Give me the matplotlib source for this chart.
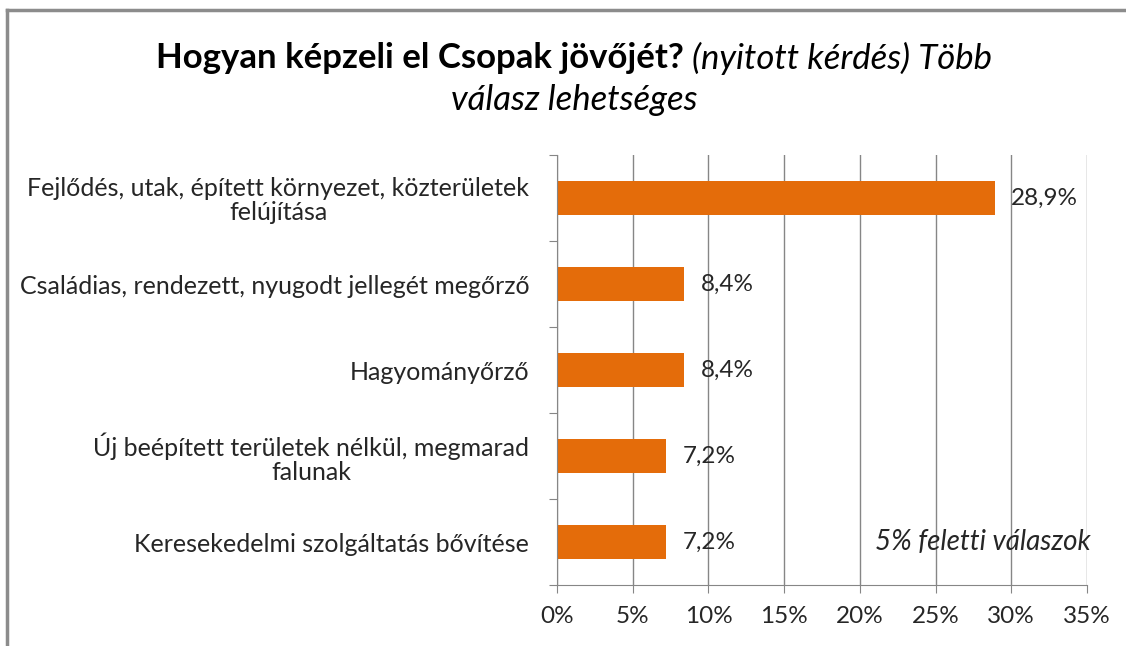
import matplotlib.pyplot as plt
from matplotlib.lines import Line2D

plt.rcParams['font.family'] = ['Lato', 'DejaVu Sans']

# Adatok
kategoriak = [
    "Fejlődés, utak, épített környezet, közterületek\nfelújítása",
    "Családias, rendezett, nyugodt jellegét megőrző",
    "Hagyományőrző",
    "Új beépített területek nélkül, megmarad\nfalunak",
    "Keresekedelmi szolgáltatás bővítése",
]
ertekek = [28.9, 8.4, 8.4, 7.2, 7.2]
cimkek = ["28,9%", "8,4%", "8,4%", "7,2%", "7,2%"]
x_tickek = [0, 5, 10, 15, 20, 25, 30, 35]

narancs = "#E46C0A"
szurke = "#868686"
szoveg = "#262626"

fig = plt.figure(figsize=(11.26, 6.46), dpi=100)
ax = fig.add_axes([557 / 1126, 1 - 585 / 646, 530 / 1126, 430 / 646])

y = list(range(len(kategoriak)))
ax.barh(y, ertekek, height=0.4, color=narancs, zorder=3)
ax.set_ylim(len(kategoriak) - 0.5, -0.5)
ax.set_xlim(0, 35)

for yi, v, c in zip(y, ertekek, cimkek):
    ax.text(v + 1.1, yi, c, va="center", ha="left", fontsize=17.5, color=szoveg, zorder=4)

ax.set_xticks(x_tickek)
ax.set_xticklabels([f"{t}%" for t in x_tickek], fontsize=17.5, color=szoveg)
ax.set_yticks([i - 0.5 for i in range(len(kategoriak) + 1)], minor=False)
ax.set_yticklabels([])
ax.set_yticks(y, minor=True)
ax.set_yticklabels(kategoriak, minor=True, fontsize=18, color=szoveg,
                   ha="right", multialignment="center", linespacing=1.05)
ax.tick_params(axis="y", which="minor", length=0, pad=20)
ax.tick_params(axis="y", which="major", length=6, color=szurke, direction="out")
ax.tick_params(axis="x", length=6, color=szurke, direction="out", pad=9)

ax.grid(axis="x", color=szurke, linewidth=1, zorder=0)
for s in ["top", "right"]:
    ax.spines[s].set_visible(False)
for s in ["left", "bottom"]:
    ax.spines[s].set_color(szurke)
    ax.spines[s].set_zorder(5)

ax.text(28.1, 4, "5% feletti válaszok", style="italic", fontsize=20, color=szoveg,
        ha="center", va="center", zorder=4)

# Cím: félkövér és dőlt rész egy sorban
fig.canvas.draw()
r = fig.canvas.get_renderer()
t1 = fig.text(0, 1 - 58 / 646, "Hogyan képzeli el Csopak jövőjét? ", fontsize=25,
              fontweight="bold", color="black", va="center", ha="left")
t2 = fig.text(0, 1 - 58 / 646, "(nyitott kérdés) Több", fontsize=25,
              style="italic", color="black", va="center", ha="left")
w1 = t1.get_window_extent(r).width
w2 = t2.get_window_extent(r).width
x0 = 574 - (w1 + w2) / 2
t1.set_x(x0 / 1126)
t2.set_x((x0 + w1) / 1126)
fig.text(574 / 1126, 1 - 100 / 646, "válasz lehetséges", fontsize=25, style="italic",
         color="black", va="center", ha="center")

# Keret
fig.add_artist(Line2D([7 / 1126, 1], [1 - 10 / 646, 1 - 10 / 646], color="#8C8C8C", linewidth=2.5))
fig.add_artist(Line2D([7 / 1126, 7 / 1126], [0, 1 - 10 / 646], color="#8C8C8C", linewidth=2.5))

fig.savefig("out.png", dpi=100)
